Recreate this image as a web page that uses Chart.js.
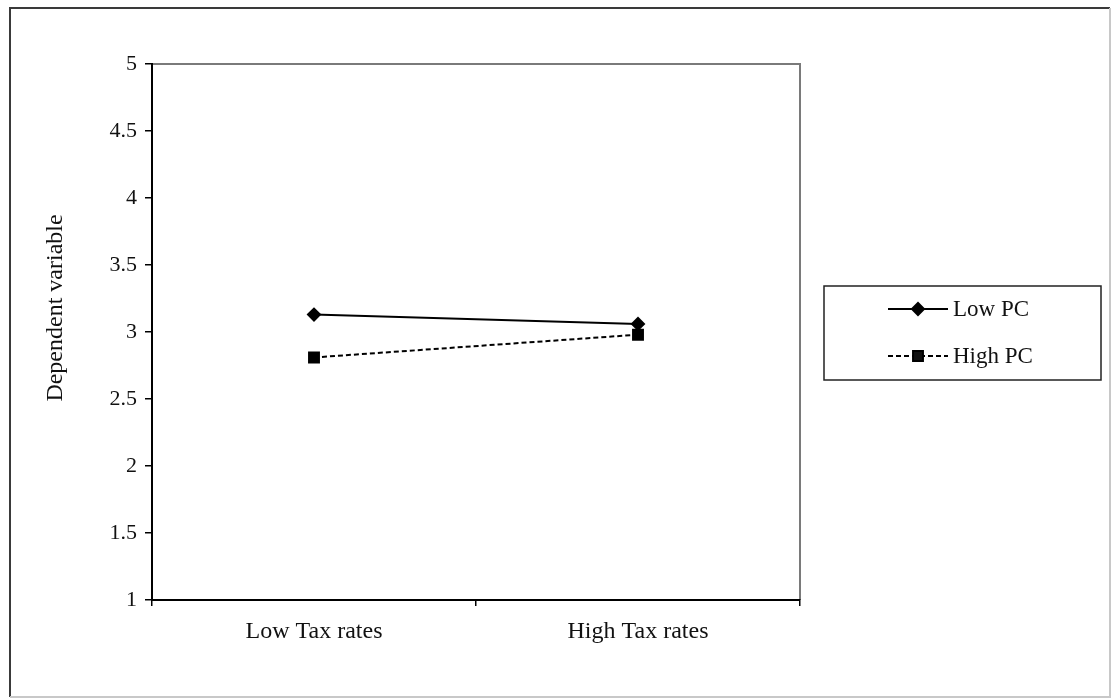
<!DOCTYPE html>
<html>
<head>
<meta charset="utf-8">
<script src="https://cdn.jsdelivr.net/npm/chart.js@4.4.1/dist/chart.umd.min.js"></script>
<style>
  html, body { margin: 0; padding: 0; background: #ffffff; }
  canvas { display: block; }
</style>
</head>
<body>
<canvas id="chart" width="1114" height="699"></canvas>
<script>
// Interaction of tax rates and PC on the dependent variable
const categories = ['Low Tax rates', 'High Tax rates'];
const lowPC = [3.13, 3.06];
const highPC = [2.81, 2.98];
const seriesNames = ['Low PC', 'High PC'];
const yTickValues = [1, 1.5, 2, 2.5, 3, 3.5, 4, 4.5, 5];
const yTitle = 'Dependent variable';

const SERIF = '"Liberation Serif", "Times New Roman", serif';

// Page frame, the plot box's top/right edges and the rotated axis title
const framePlugin = {
  id: 'frame',
  beforeDraw(chart) {
    const ctx = chart.ctx;
    const a = chart.chartArea;
    ctx.save();
    ctx.fillStyle = '#ffffff';
    ctx.fillRect(0, 0, chart.width, chart.height);
    // outer frame
    ctx.lineWidth = 2;
    ctx.strokeStyle = '#3a3a3a';
    ctx.beginPath();
    ctx.moveTo(10, 697); ctx.lineTo(10, 8); ctx.lineTo(1110, 8);
    ctx.stroke();
    ctx.strokeStyle = '#c8c8c8';
    ctx.beginPath();
    ctx.moveTo(1110, 8); ctx.lineTo(1110, 697); ctx.lineTo(10, 697);
    ctx.stroke();
    // plot box top and right
    ctx.strokeStyle = '#7a7a7a';
    ctx.lineWidth = 2;
    ctx.beginPath();
    ctx.moveTo(a.left, a.top); ctx.lineTo(a.right, a.top); ctx.lineTo(a.right, a.bottom);
    ctx.stroke();
    // y axis title
    ctx.translate(56, 308);
    ctx.rotate(-Math.PI / 2);
    ctx.fillStyle = '#111111';
    ctx.font = '24px ' + SERIF;
    ctx.textAlign = 'center';
    ctx.textBaseline = 'middle';
    ctx.fillText(yTitle, 0, 0);
    ctx.restore();
  }
};

// Boxed legend at the right, built from the datasets' own styling
const boxLegendPlugin = {
  id: 'boxLegend',
  afterDraw(chart) {
    const ctx = chart.ctx;
    const box = { x: 824, y: 286, w: 277, h: 94 };
    ctx.save();
    ctx.strokeStyle = '#222222';
    ctx.lineWidth = 1.5;
    ctx.strokeRect(box.x, box.y, box.w, box.h);
    const rows = [309, 356];
    chart.data.datasets.forEach((ds, i) => {
      const y = rows[i];
      ctx.strokeStyle = ds.borderColor;
      ctx.lineWidth = ds.borderWidth;
      ctx.setLineDash(ds.borderDash || []);
      ctx.beginPath();
      ctx.moveTo(888, y); ctx.lineTo(948, y);
      ctx.stroke();
      ctx.setLineDash([]);
      Chart.helpers.drawPoint(ctx, {
        pointStyle: ds.pointStyle,
        radius: ds.pointRadius,
        rotation: 0,
        borderWidth: 1
      }, 918, y);
      ctx.fillStyle = '#111111';
      ctx.font = '23px ' + SERIF;
      ctx.textBaseline = 'middle';
      ctx.textAlign = 'left';
      ctx.fillText(ds.label, 953, y + 1);
    });
    ctx.restore();
  }
};

new Chart(document.getElementById('chart'), {
  type: 'line',
  data: {
    labels: categories,
    datasets: [
      {
        label: seriesNames[0],
        data: lowPC,
        borderColor: '#000000',
        backgroundColor: '#000000',
        borderWidth: 2,
        pointStyle: 'rectRot',
        pointRadius: 6,
        pointBackgroundColor: '#000000',
        pointBorderColor: '#000000',
        tension: 0
      },
      {
        label: seriesNames[1],
        data: highPC,
        borderColor: '#000000',
        backgroundColor: '#000000',
        borderWidth: 2,
        borderDash: [5, 3],
        pointStyle: 'rect',
        pointRadius: 7,
        pointBackgroundColor: '#000000',
        pointBorderColor: '#000000',
        tension: 0
      }
    ]
  },
  options: {
    responsive: false,
    animation: false,
    layout: { padding: { left: 0, top: 64, right: 314, bottom: 0 } },
    plugins: {
      legend: { display: false },
      tooltip: { enabled: false }
    },
    scales: {
      x: {
        type: 'category',
        offset: true,
        grid: {
          offset: true,
          drawOnChartArea: false,
          drawTicks: true,
          tickLength: 6,
          color: '#000000',
          lineWidth: 1.5
        },
        border: { display: true, color: '#000000', width: 2 },
        ticks: {
          color: '#111111',
          padding: 11,
          font: { family: SERIF, size: 24 },
          maxRotation: 0
        },
        afterFit(scale) { scale.height = 99; }
      },
      y: {
        min: 1,
        max: 5,
        afterBuildTicks(scale) {
          scale.ticks = yTickValues.map(v => ({ value: v }));
        },
        grid: {
          drawOnChartArea: false,
          drawTicks: true,
          tickLength: 7,
          color: '#000000',
          lineWidth: 1.5
        },
        border: { display: true, color: '#000000', width: 2 },
        ticks: {
          color: '#111111',
          padding: 8,
          font: { family: SERIF, size: 22 },
          callback: (v) => String(v)
        },
        afterFit(scale) { scale.width = 152; }
      }
    }
  },
  plugins: [framePlugin, boxLegendPlugin]
});
</script>
</body>
</html>
